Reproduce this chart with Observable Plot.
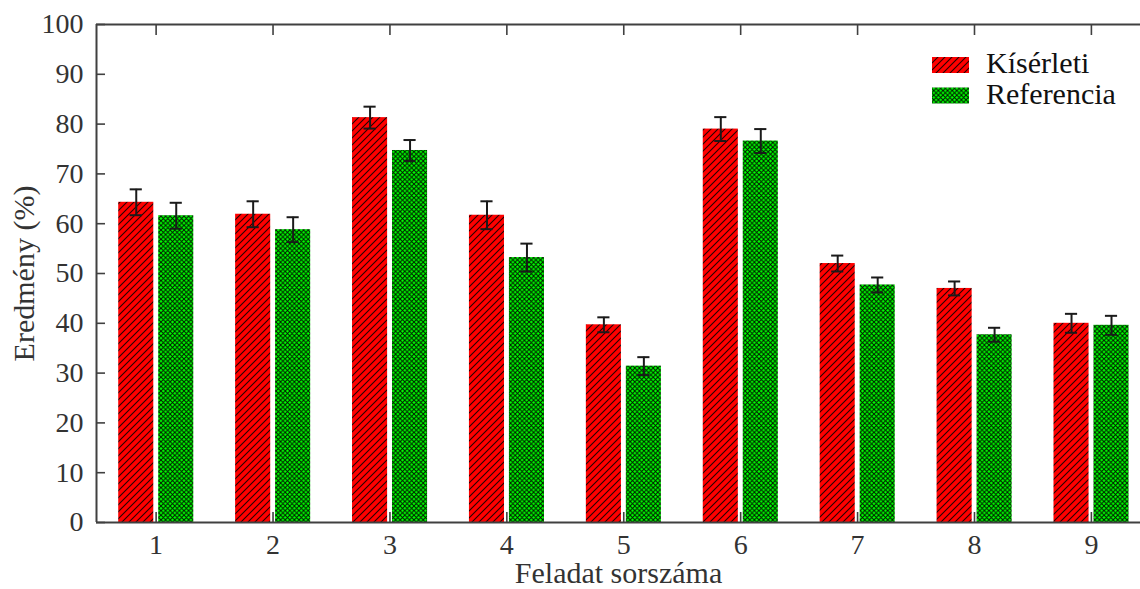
<!DOCTYPE html>
<html>
<head>
<meta charset="utf-8">
<script src="https://cdn.jsdelivr.net/npm/d3@7"></script>
<script src="https://cdn.jsdelivr.net/npm/@observablehq/plot@0.6"></script>
<style>
  body { margin: 0; background: #fff; }
  #wrap { position: relative; width: 1140px; height: 589px; font-family: "Liberation Serif", "DejaVu Serif", serif; }
  #legend { position: absolute; left: 920px; top: 40px; }
</style>
</head>
<body>
<svg width="0" height="0" style="position:absolute">
  <defs>
    <pattern id="hatch" patternUnits="userSpaceOnUse" width="7" height="7">
      <rect width="7" height="7" fill="#ff0000"></rect>
      <path d="M-1,1 L1,-1 M0,7 L7,0 M6,8 L8,6" stroke="#000" stroke-width="1.1" stroke-opacity="0.85"></path>
    </pattern>
    <pattern id="cross" patternUnits="userSpaceOnUse" width="4.6" height="4.6">
      <rect width="4.6" height="4.6" fill="#00ff00"></rect>
      <path d="M0,0 L4.6,4.6 M0,4.6 L4.6,0" stroke="#000" stroke-width="1" stroke-opacity="0.9"></path>
    </pattern>
  </defs>
</svg>
<div id="wrap">
  <div id="chart"></div>
  <svg id="legend" width="220" height="75"></svg>
</div>
<script>
// ---- data ----
const tasks = [1, 2, 3, 4, 5, 6, 7, 8, 9];
const seriesNames = ["Kísérleti", "Referencia"];
const kiserleti = [64.3, 61.9, 81.3, 61.7, 39.7, 79.0, 52.0, 47.0, 40.0];
const kiserletiErr = [2.6, 2.6, 2.2, 2.8, 1.5, 2.4, 1.6, 1.4, 1.9];
const referencia = [61.6, 58.8, 74.7, 53.2, 31.4, 76.6, 47.7, 37.7, 39.6];
const referenciaErr = [2.6, 2.5, 2.1, 2.8, 1.8, 2.4, 1.5, 1.4, 1.9];
const yTicks = [0, 10, 20, 30, 40, 50, 60, 70, 80, 90, 100];
const xLabel = "Feladat sorszáma";
const yLabel = "Eredmény (%)";

// ---- layout / style ----
const fills = {"Kísérleti": "url(#hatch)", "Referencia": "url(#cross)"};
const offsets = {"Kísérleti": [-0.32, -0.02], "Referencia": [0.022, 0.322]};
const capHalf = 0.052;
const axisColor = "#404040";
const textColor = "#333";
const font = "'Liberation Serif', 'DejaVu Serif', serif";

const rows = tasks.flatMap((t, i) => [
  {task: t, series: seriesNames[0], value: kiserleti[i], err: kiserletiErr[i]},
  {task: t, series: seriesNames[1], value: referencia[i], err: referenciaErr[i]}
]).map(r => {
  const [a, b] = offsets[r.series];
  return {...r, x1: r.task + a, x2: r.task + b, xc: r.task + (a + b) / 2};
});

const W = 1140, H = 589, mL = 96, mR = 0, mT = 24, mB = 67;
const plotW = W - mL - mR, plotH = H - mT - mB;
const xDomain = [0.49, 9.42];

const chart = Plot.plot({
  width: W, height: H,
  marginLeft: mL, marginRight: mR, marginTop: mT, marginBottom: mB,
  x: {domain: xDomain},
  y: {domain: [0, 100]},
  style: {fontFamily: font, fontSize: "28px", color: textColor, background: "#fff"},
  marks: [
    ...seriesNames.map(s => Plot.rectY(rows.filter(r => r.series === s), {
      x1: "x1", x2: "x2", y1: 0, y2: "value", fill: fills[s]
    })),
    Plot.ruleX(rows, {x: "xc", y1: d => d.value - d.err, y2: d => d.value + d.err, stroke: "#1a1a1a", strokeWidth: 2}),
    Plot.ruleY(rows, {y: d => d.value + d.err, x1: d => d.xc - capHalf, x2: d => d.xc + capHalf, stroke: "#1a1a1a", strokeWidth: 2}),
    Plot.ruleY(rows, {y: d => d.value - d.err, x1: d => d.xc - capHalf, x2: d => d.xc + capHalf, stroke: "#1a1a1a", strokeWidth: 2}),
    // frame lines
    Plot.ruleX([xDomain[0]], {stroke: axisColor, strokeWidth: 2}),
    Plot.ruleY([0, 100], {stroke: axisColor, strokeWidth: 2}),
    // inward ticks
    Plot.tickY(yTicks, {y: d => d, insetRight: plotW - 9, stroke: axisColor, strokeWidth: 1.6}),
    Plot.tickX(tasks, {x: d => d, insetTop: plotH - 10, stroke: axisColor, strokeWidth: 1.6}),
    Plot.tickX(tasks, {x: d => d, insetBottom: plotH - 11, stroke: axisColor, strokeWidth: 1.6}),
    Plot.axisY({ticks: yTicks, tickSize: 0, tickPadding: 13, fill: textColor, label: null}),
    Plot.axisY({ticks: [], tickSize: 0, fill: textColor, fontSize: 30,
      label: yLabel, labelAnchor: "center", labelOffset: 84, labelArrow: "none"}),
    Plot.axisX({ticks: tasks, tickSize: 0, tickPadding: 12, tickFormat: d => String(d), fill: textColor, label: null}),
    Plot.axisX({ticks: [], tickSize: 0, fill: textColor, fontSize: 30,
      label: xLabel, labelAnchor: "center", labelOffset: 60, labelArrow: "none"})
  ]
});
document.getElementById("chart").appendChild(chart);

// ---- legend ----
const lg = d3.select("#legend");
seriesNames.forEach((s, i) => {
  const y0 = 17 + i * 30.5;
  lg.append("rect").attr("x", 12).attr("y", y0).attr("width", 37).attr("height", 16).attr("fill", fills[s]);
  lg.append("text").attr("x", 66).attr("y", y0 + 16).text(s)
    .attr("font-family", font).attr("font-size", 30).attr("fill", "#111");
});
</script>
</body>
</html>
